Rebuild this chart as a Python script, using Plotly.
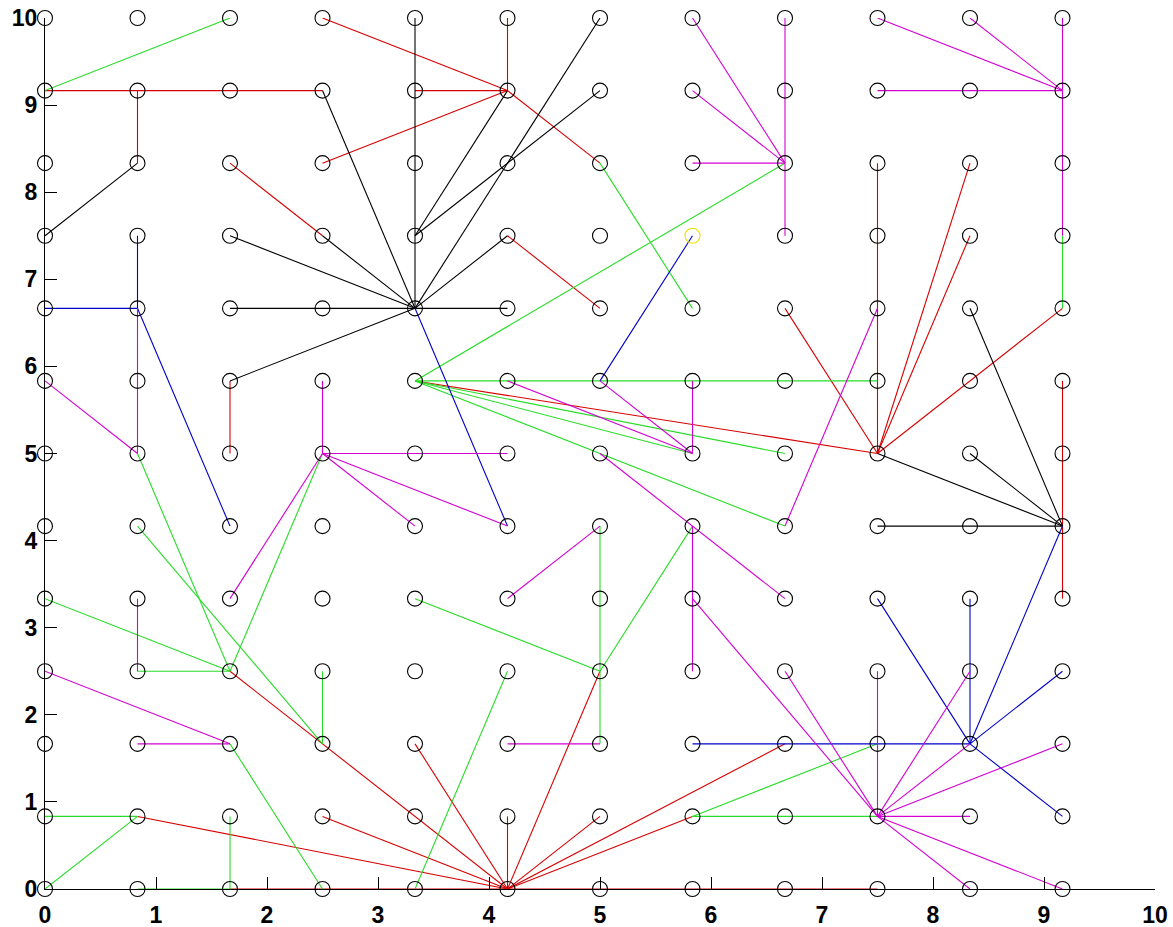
import plotly.graph_objects as go

# grid coordinates (12 columns, 13 rows)
X_VALS = [0.0, 0.8333, 1.6667, 2.5, 3.3333, 4.1667, 5.0, 5.8333, 6.6667, 7.5, 8.3333, 9.1667]
Y_VALS = [0.0, 0.8333, 1.6667, 2.5, 3.3333, 4.1667, 5.0, 5.8333, 6.6667, 7.5, 8.3333, 9.1667, 10.0]
HIGHLIGHT = (7, 9)  # yellow node (col, row)

# edges as ((col,row),(col,row))
RED = [((0, 11), (3, 11)), ((1, 11), (1, 10)),
       ((3, 12), (5, 11)), ((5, 12), (5, 11)), ((4, 11), (5, 11)), ((3, 10), (5, 11)), ((5, 11), (6, 10)),
       ((2, 10), (3, 9)), ((5, 9), (6, 8)), ((2, 7), (2, 6)),
       ((9, 10), (9, 6)), ((10, 10), (9, 6)), ((10, 9), (9, 6)), ((11, 8), (9, 6)), ((8, 8), (9, 6)), ((4, 7), (9, 6)),
       ((11, 7), (11, 4)),
       ((1, 1), (5, 0)), ((2, 3), (5, 0)), ((3, 1), (5, 0)), ((4, 2), (5, 0)), ((5, 1), (5, 0)),
       ((6, 3), (5, 0)), ((8, 2), (5, 0)), ((7, 1), (5, 0)), ((6, 1), (5, 0)), ((2, 0), (9, 0))]

GREEN = [((0, 11), (2, 12)), ((6, 10), (7, 8)), ((8, 10), (4, 7)), ((11, 9), (11, 8)),
         ((4, 7), (9, 7)), ((4, 7), (8, 6)), ((4, 7), (8, 5)), ((4, 7), (7, 6)),
         ((6, 5), (6, 2)), ((6, 3), (7, 5)), ((4, 4), (6, 3)), ((4, 0), (5, 3)), ((3, 3), (3, 2)),
         ((3, 6), (2, 3)), ((1, 6), (2, 3)), ((1, 5), (3, 2)), ((0, 4), (2, 3)), ((1, 3), (2, 3)), ((2, 2), (3, 0)),
         ((0, 1), (1, 1)), ((0, 0), (1, 1)), ((2, 1), (2, 0)), ((1, 0), (2, 0)),
         ((7, 1), (9, 2)), ((7, 1), (9, 1))]

BLACK = [((0, 9), (1, 10)),
         ((4, 8), (4, 12)), ((4, 8), (3, 11)), ((4, 8), (6, 12)), ((4, 8), (5, 9)), ((4, 8), (3, 9)),
         ((4, 8), (2, 9)), ((4, 8), (2, 8)), ((4, 8), (5, 8)), ((4, 8), (2, 7)),
         ((4, 9), (5, 11)), ((4, 9), (6, 11)),
         ((11, 5), (9, 6)), ((11, 5), (10, 6)), ((11, 5), (10, 8)), ((11, 5), (9, 5))]

BLUE = [((0, 8), (1, 8)), ((1, 9), (1, 8)), ((1, 8), (2, 5)), ((4, 8), (5, 5)), ((6, 7), (7, 9)),
        ((10, 2), (7, 2)), ((10, 2), (9, 4)), ((10, 2), (10, 4)), ((10, 2), (11, 5)), ((10, 2), (11, 3)), ((10, 2), (11, 1))]

MAGENTA = [((7, 12), (8, 10)), ((7, 11), (8, 10)), ((7, 10), (8, 10)), ((8, 12), (8, 9)),
           ((9, 12), (11, 11)), ((10, 12), (11, 11)), ((11, 12), (11, 11)), ((9, 11), (11, 11)), ((11, 11), (11, 9)),
           ((1, 8), (1, 6)), ((0, 7), (1, 6)), ((1, 4), (1, 3)), ((0, 3), (2, 2)), ((1, 2), (2, 2)),
           ((3, 6), (3, 7)), ((3, 6), (5, 6)), ((3, 6), (4, 5)), ((3, 6), (5, 5)), ((3, 6), (2, 4)),
           ((5, 7), (7, 6)), ((6, 7), (7, 6)), ((7, 7), (7, 6)),
           ((8, 5), (9, 8)), ((6, 6), (8, 4)), ((7, 5), (7, 3)),
           ((9, 1), (9, 3)), ((9, 1), (10, 3)), ((9, 1), (10, 2)), ((9, 1), (11, 2)), ((9, 1), (10, 1)),
           ((9, 1), (11, 0)), ((9, 1), (10, 0)), ((9, 1), (7, 4)), ((9, 1), (8, 3)),
           ((5, 2), (6, 2)), ((5, 4), (6, 5))]

TICKS = [0, 1, 2, 3, 4, 5, 6, 7, 8, 9, 10]

SERIES = [(RED, "rgb(215,0,0)"), (GREEN, "rgb(40,220,40)"), (BLACK, "rgb(0,0,0)"),
          (BLUE, "rgb(0,0,200)"), (MAGENTA, "rgb(210,0,210)")]

fig = go.Figure()

for edges, color in SERIES:
    xs, ys = [], []
    for (a, b) in edges:
        xs += [X_VALS[a[0]], X_VALS[b[0]], None]
        ys += [Y_VALS[a[1]], Y_VALS[b[1]], None]
    fig.add_trace(go.Scatter(x=xs, y=ys, mode="lines", line=dict(color=color, width=1.1),
                             hoverinfo="skip", showlegend=False, cliponaxis=False))

nx, ny = [], []
for i in range(len(X_VALS)):
    for j in range(len(Y_VALS)):
        if (i, j) == HIGHLIGHT:
            continue
        nx.append(X_VALS[i])
        ny.append(Y_VALS[j])
fig.add_trace(go.Scatter(x=nx, y=ny, mode="markers",
                         marker=dict(symbol="circle-open", size=15, color="black", line=dict(width=1.1)),
                         showlegend=False, cliponaxis=False))
fig.add_trace(go.Scatter(x=[X_VALS[HIGHLIGHT[0]]], y=[Y_VALS[HIGHLIGHT[1]]], mode="markers",
                         marker=dict(symbol="circle-open", size=15, color="rgb(235,225,0)", line=dict(width=1.1)),
                         showlegend=False, cliponaxis=False))

tickfont = dict(family="Liberation Sans", size=23, color="black", weight="bold")
fig.update_layout(
    width=1173, height=927,
    margin=dict(l=45, r=18, t=18, b=38),
    paper_bgcolor="white", plot_bgcolor="white",
    xaxis=dict(range=[0, 10], tickvals=TICKS, ticktext=[str(t) for t in TICKS], automargin=False,
               showgrid=False, zeroline=False, showline=True, linecolor="black", linewidth=1,
               ticks="inside", ticklen=12, tickcolor="black", tickfont=tickfont, ticklabelstandoff=5,
               ticklabeloverflow="allow"),
    yaxis=dict(range=[0, 10], tickvals=TICKS, ticktext=[str(t) for t in TICKS], automargin=False,
               showgrid=False, zeroline=False, showline=True, linecolor="black", linewidth=1,
               ticks="inside", ticklen=12, tickcolor="black", tickfont=tickfont, ticklabelstandoff=2,
               ticklabeloverflow="allow"),
)

# remove the browser's default 8px body margin so the figure fills the window exactly
fig.write_html("out.html", config={"displayModeBar": False},
               post_script="document.body.style.margin='0';document.body.style.overflow='hidden';")
